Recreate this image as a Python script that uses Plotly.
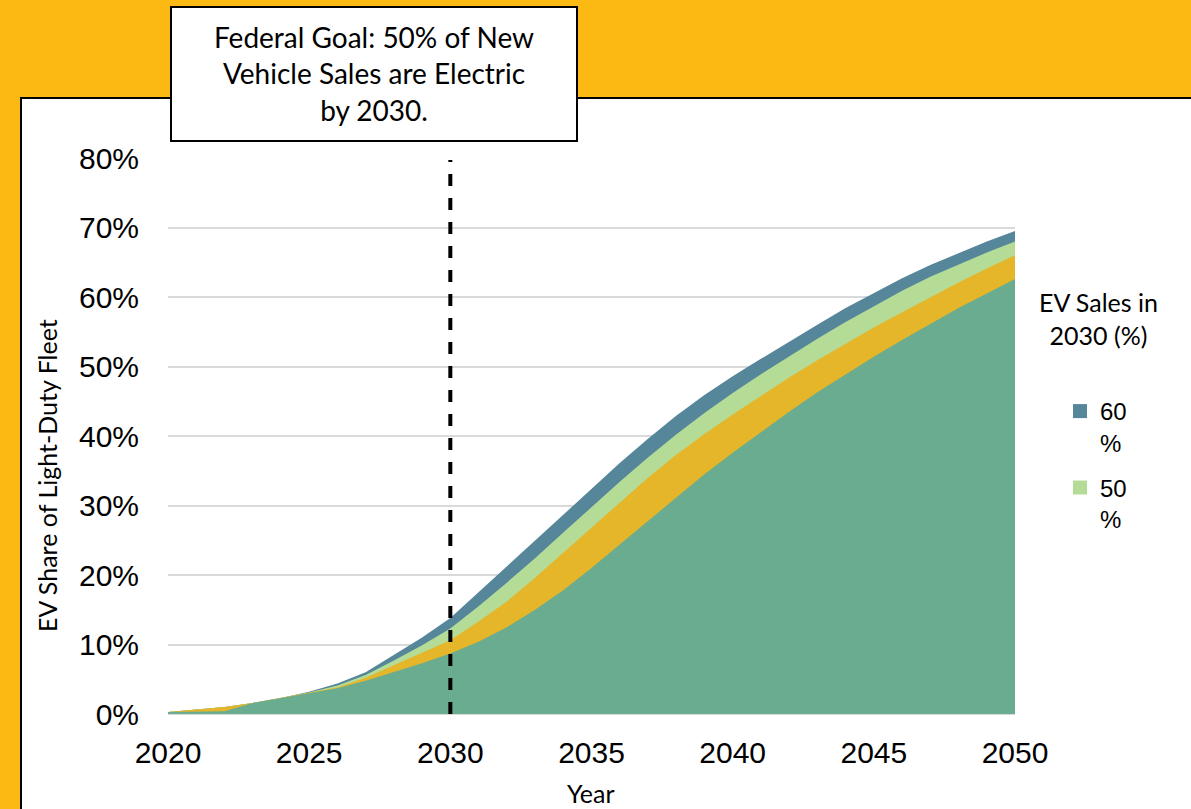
import plotly.graph_objects as go

years = list(range(2020, 2051))
# EV share of light-duty fleet (%) by scenario of EV sales share in 2030
s60 = [0.3, 0.65, 1.0, 1.6, 2.3, 3.2, 4.4, 6.0, 8.5, 11.0, 13.8, 17.5, 21.3, 25.0, 28.7, 32.4,
       36.1, 39.6, 42.9, 45.9, 48.6, 51.1, 53.6, 56.0, 58.4, 60.6, 62.7, 64.6, 66.3, 68.0, 69.5]
s50 = [0.3, 0.65, 1.0, 1.6, 2.3, 3.1, 4.1, 5.6, 7.7, 9.9, 12.3, 15.5, 18.9, 22.4, 26.1, 29.8,
       33.4, 36.9, 40.2, 43.3, 46.2, 48.9, 51.5, 54.0, 56.4, 58.7, 60.9, 62.9, 64.7, 66.4, 68.0]
s40 = [0.3, 0.65, 1.0, 1.6, 2.3, 3.0, 3.8, 5.2, 7.0, 8.7, 10.6, 13.3, 16.2, 19.6, 23.2, 26.9,
       30.5, 34.0, 37.3, 40.3, 43.1, 45.8, 48.4, 50.9, 53.3, 55.6, 57.8, 60.0, 62.1, 64.1, 66.0]
s30 = [0.3, 0.35, 0.4, 1.6, 2.3, 2.9, 3.7, 4.8, 6.0, 7.3, 8.7, 10.4, 12.5, 15.0, 17.8, 21.0,
       24.4, 27.8, 31.2, 34.5, 37.6, 40.6, 43.5, 46.3, 48.9, 51.4, 53.8, 56.1, 58.4, 60.5, 62.6]

series = [
    ("60<br>%", s60, "#568699", True),
    ("50<br>%", s50, "#B5DC97", True),
    ("40<br>%", s40, "#E5B52A", False),
    ("30<br>%", s30, "#69AC8F", False),
]

fig = go.Figure()
for name, vals, col, show in series:
    fig.add_trace(go.Scatter(
        x=years, y=[v / 100 for v in vals], name=name, mode="lines",
        line=dict(width=0, color=col), fill="tozeroy", fillcolor=col,
        showlegend=False, hoverinfo="x+y+name"))

# legend entries (square swatches)
for i, (name, vals, col, show) in enumerate(series):
    if show:
        fig.add_trace(go.Scatter(
            x=[None], y=[None], mode="markers", name=name, legendgroup=f"g{i}",
            marker=dict(symbol="square", size=14, color=col)))

fig.add_trace(go.Scatter(
    x=[2030, 2030], y=[0, 0.797], mode="lines", showlegend=False,
    line=dict(color="black", width=4, dash="dash")))

L, R, T, B = 168, 176, 158, 95
W, H = 1191, 809
pw, ph = W - L - R, H - T - B

def px(p):
    return (p - L) / pw

def py(p):
    return (H - B - p) / ph

shapes = [
    dict(type="rect", xref="paper", yref="paper", x0=px(21), x1=px(1200), y0=py(98), y1=py(820),
         fillcolor="white", line=dict(color="black", width=2), layer="below"),
    dict(type="rect", xref="paper", yref="paper", x0=px(171), x1=px(577), y0=py(141), y1=py(7),
         fillcolor="white", line=dict(color="black", width=2), layer="above"),
]

calibri = "Lato, Open Sans"

def note(text, x, y, size, **kw):
    d = dict(xref="paper", yref="paper", x=px(x), y=py(y), showarrow=False, text=text,
             xanchor="center", yanchor="middle", align="center",
             font=dict(family=calibri, size=size, color="black"))
    d.update(kw)
    return d

annotations = [
    note("Federal Goal: 50% of New<br>Vehicle Sales are Electric<br>by 2030.", 374, 73, 28),
    note("EV Sales in<br>2030 (%)", 1098, 318, 25),
    note("Year", 591, 793, 25),
    note("EV Share of Light-Duty Fleet", 47, 476, 25, textangle=-90),
]

fig.update_layout(
    width=W, height=H,
    margin=dict(l=L, r=R, t=T, b=B),
    paper_bgcolor="#FDB913",
    plot_bgcolor="rgba(0,0,0,0)",
    shapes=shapes,
    annotations=annotations,
    font=dict(family="Liberation Sans, Arial", color="black"),
    showlegend=True,
    legend=dict(x=px(1060), y=py(389), xanchor="left", yanchor="top", valign="top",
                font=dict(family="Liberation Sans, Arial", size=24), bgcolor="rgba(0,0,0,0)",
                tracegroupgap=11, itemwidth=30),
    xaxis=dict(range=[2020, 2050], tickvals=[2020, 2025, 2030, 2035, 2040, 2045, 2050],
               showgrid=False, zeroline=False, showline=False, ticks="",
               ticklabelstandoff=18,
               tickfont=dict(size=30, family="Liberation Sans, Arial")),
    yaxis=dict(range=[0, 0.8], dtick=0.1, tickformat=".0%", showgrid=True,
               gridcolor="#D9D9D9", gridwidth=2, zeroline=True, zerolinecolor="#D9D9D9",
               zerolinewidth=2, ticks="", ticklabelstandoff=28,
               tickfont=dict(size=30, family="Liberation Sans, Arial")),
)

fig.write_html("out.html")
